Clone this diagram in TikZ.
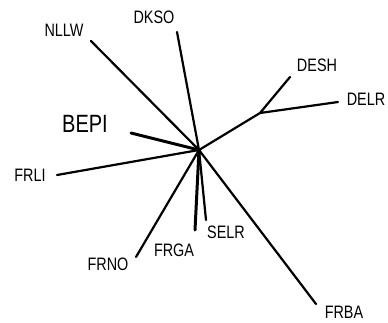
\documentclass[tikz,border=0pt]{standalone}
\usepackage{fontspec}
\newfontfamily\lblfont[FakeStretch=0.8]{Liberation Sans}
\begin{document}
\begin{tikzpicture}[x=1pt, y=-1pt, line join=round, line cap=round,
  branch/.style={line width=2.2pt},
  thick branch/.style={line width=3pt},
  taxon/.style={font=\lblfont\fontsize{18}{18}\selectfont, inner sep=0pt},
  big taxon/.style={font=\lblfont\fontsize{25}{25}\selectfont, inner sep=0pt}]
			\useasboundingbox (0,0) rectangle (388,322);
			% inner nodes
			\coordinate (c) at (199,150);
			\coordinate (j) at (260,113);
			% leaf ends
			\coordinate (eNLLW) at (91,41);
			\coordinate (eDKSO) at (177,32);
			\coordinate (eBEPI) at (131,133);
			\coordinate (eFRLI) at (57,175);
			\coordinate (eFRNO) at (136,257);
			\coordinate (eFRGA) at (195,230);
			\coordinate (eSELR) at (206,220);
			\coordinate (eFRBA) at (316,304);
			\coordinate (eDESH) at (290,77);
			\coordinate (eDELR) at (338,102);
			% labels
			\node[taxon] (NLLW) at (64,30) {NLLW};
			\node[taxon] (DKSO) at (154,17) {DKSO};
			\node[big taxon] (BEPI) at (85,124) {BEPI};
			\node[taxon] (FRLI) at (30,175) {FRLI};
			\node[taxon] (FRNO) at (108,264) {FRNO};
			\node[taxon] (FRGA) at (174,250) {FRGA};
			\node[taxon] (SELR) at (226,232) {SELR};
			\node[taxon] (FRBA) at (344,312) {FRBA};
			\node[taxon] (DESH) at (317,65) {DESH};
			\node[taxon] (DELR) at (366,99) {DELR};
			% branches
			\draw[branch] (c)--(eNLLW) (c)--(eDKSO) (c)--(eFRLI) (c)--(eFRNO)
			(c)--(eSELR) (c)--(eFRBA) (c)--(j) (j)--(eDESH) (j)--(eDELR);
			\draw[thick branch] (c)--(eBEPI) (c)--(eFRGA);
		\end{tikzpicture}
\end{document}
